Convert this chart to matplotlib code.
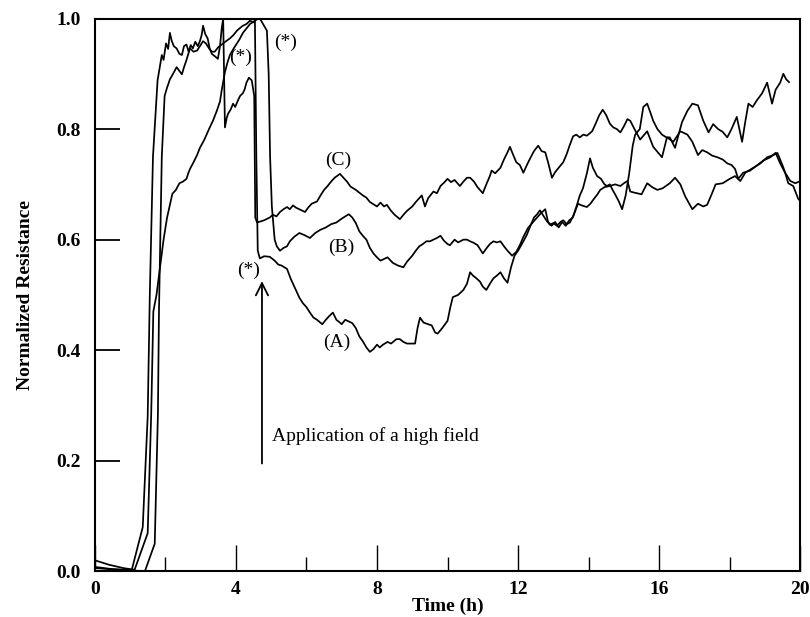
import matplotlib
matplotlib.use("Agg")
import matplotlib.pyplot as plt
from matplotlib.ticker import MultipleLocator

plt.rcParams['font.family'] = ['Liberation Serif', 'DejaVu Serif']

# curve (A): slow rise, drops at ~4.6 h to the lowest branch
tA = [0, 0.2, 0.4, 0.6, 0.8, 1.0, 1.13, 1.5, 1.6, 1.66, 1.75, 1.85, 1.95, 2.05, 2.12, 2.2, 2.3, 2.4,
      2.5, 2.6, 2.65, 2.7, 2.8, 2.9, 2.98, 3.1, 3.26, 3.35, 3.46, 3.55, 3.6, 3.69, 3.76, 3.83, 3.93,
      4.03, 4.1, 4.2, 4.3, 4.4, 4.54, 4.58, 4.62, 4.68, 4.8, 4.96, 5.1, 5.2, 5.3, 5.45, 5.55, 5.7, 5.8,
      5.9, 6.0, 6.1, 6.2, 6.3, 6.45, 6.55, 6.65, 6.75, 6.85, 6.95, 7.0, 7.1, 7.2, 7.3, 7.4, 7.5, 7.6,
      7.7, 7.8, 7.9, 8.0, 8.08, 8.17, 8.3, 8.4, 8.55, 8.65, 8.75, 8.85, 8.95, 9.08, 9.15, 9.22, 9.32,
      9.45, 9.55, 9.65, 9.72, 9.85, 10.0, 10.08, 10.15, 10.3, 10.45, 10.55, 10.64, 10.72, 10.82, 10.92,
      11.0, 11.1, 11.2, 11.3, 11.4, 11.5, 11.6, 11.7, 11.8, 11.9, 12.0, 12.15, 12.25, 12.35, 12.45,
      12.54, 12.62, 12.7, 12.8, 12.9, 13.0, 13.1, 13.2, 13.28, 13.38, 13.47, 13.58, 13.7, 13.8, 13.95,
      14.05, 14.13, 14.25, 14.33, 14.45, 14.6, 14.75, 14.9, 15.0, 15.1, 15.18, 15.3, 15.5, 15.66, 15.8,
      15.95, 16.1, 16.3, 16.45, 16.6, 16.74, 16.94, 17.1, 17.25, 17.36, 17.5, 17.6, 17.8, 18.0, 18.15,
      18.3, 18.44, 18.67, 18.87, 19.06, 19.24, 19.35, 19.5, 19.57, 19.66, 19.8, 19.94, 20.0]
rA = [0.020, 0.016, 0.012, 0.009, 0.006, 0.004, 0.003, 0.069, 0.285, 0.47, 0.50, 0.55, 0.60, 0.64,
      0.66, 0.683, 0.69, 0.702, 0.705, 0.71, 0.72, 0.728, 0.74, 0.753, 0.766, 0.78, 0.803, 0.815,
      0.833, 0.85, 0.871, 0.903, 0.92, 0.934, 0.945, 0.955, 0.962, 0.974, 0.982, 0.99, 0.996, 0.75,
      0.58, 0.566, 0.57, 0.569, 0.562, 0.555, 0.553, 0.547, 0.53, 0.509, 0.495, 0.485, 0.478, 0.468,
      0.459, 0.455, 0.447, 0.455, 0.462, 0.468, 0.455, 0.45, 0.447, 0.455, 0.452, 0.449, 0.44, 0.425,
      0.416, 0.405, 0.397, 0.402, 0.41, 0.405, 0.41, 0.415, 0.412, 0.42, 0.42, 0.415, 0.412, 0.412,
      0.412, 0.44, 0.459, 0.45, 0.447, 0.445, 0.432, 0.43, 0.44, 0.453, 0.478, 0.496, 0.5, 0.509, 0.52,
      0.541, 0.535, 0.53, 0.524, 0.515, 0.509, 0.52, 0.53, 0.535, 0.541, 0.53, 0.522, 0.55, 0.571, 0.58,
      0.597, 0.609, 0.625, 0.64, 0.646, 0.653, 0.645, 0.635, 0.627, 0.63, 0.625, 0.632, 0.635, 0.628,
      0.631, 0.645, 0.665, 0.662, 0.659, 0.665, 0.672, 0.682, 0.69, 0.695, 0.697, 0.70, 0.697, 0.702,
      0.706, 0.687, 0.685, 0.682, 0.702, 0.695, 0.69, 0.693, 0.702, 0.712, 0.70, 0.678, 0.655, 0.665,
      0.66, 0.663, 0.684, 0.70, 0.702, 0.71, 0.715, 0.706, 0.721, 0.73, 0.738, 0.749, 0.753, 0.757,
      0.734, 0.721, 0.702, 0.697, 0.674, 0.67]

# curve (B): drops last (~4.9 h), ends at the top
tB = [0, 0.5, 1.0, 1.42, 1.7, 1.79, 1.82, 1.9, 1.98, 2.05, 2.13, 2.22, 2.32, 2.4, 2.47, 2.53, 2.6,
      2.7, 2.8, 2.9, 2.98, 3.07, 3.15, 3.25, 3.32, 3.4, 3.5, 3.6, 3.7, 3.83, 3.93, 4.03, 4.12, 4.2,
      4.3, 4.4, 4.5, 4.58, 4.68, 4.77, 4.88, 4.93, 4.97, 5.02, 5.1, 5.16, 5.25, 5.35, 5.45, 5.53, 5.65,
      5.8, 5.95, 6.1, 6.25, 6.4, 6.55, 6.7, 6.85, 7.0, 7.1, 7.2, 7.3, 7.4, 7.5, 7.6, 7.7, 7.8, 7.9, 8.0,
      8.1, 8.2, 8.3, 8.45, 8.6, 8.75, 8.85, 9.0, 9.1, 9.2, 9.3, 9.4, 9.5, 9.6, 9.7, 9.8, 9.9, 10.0,
      10.07, 10.2, 10.3, 10.45, 10.55, 10.64, 10.75, 10.85, 11.0, 11.1, 11.2, 11.3, 11.4, 11.5, 11.6,
      11.7, 11.83, 11.95, 12.05, 12.15, 12.28, 12.4, 12.54, 12.65, 12.77, 12.85, 12.95, 13.05, 13.15,
      13.25, 13.35, 13.45, 13.55, 13.67, 13.75, 13.84, 13.95, 14.04, 14.12, 14.24, 14.35, 14.45,
      14.52, 14.6, 14.68, 14.75, 14.85, 14.95, 15.05, 15.15, 15.25, 15.32, 15.45, 15.55, 15.66, 15.75,
      15.83, 15.95, 16.08, 16.2, 16.3, 16.45, 16.55, 16.65, 16.8, 16.94, 17.1, 17.25, 17.4, 17.53,
      17.67, 17.8, 17.93, 18.05, 18.2, 18.35, 18.44, 18.53, 18.65, 18.77, 18.92, 19.06, 19.2, 19.3,
      19.43, 19.52, 19.6, 19.68]
rB = [0.008, 0.004, 0.002, 0.0, 0.05, 0.285, 0.47, 0.75, 0.86, 0.875, 0.89, 0.90, 0.912, 0.905,
      0.899, 0.912, 0.925, 0.946, 0.94, 0.942, 0.95, 0.959, 0.955, 0.945, 0.94, 0.94, 0.948, 0.953,
      0.958, 0.964, 0.97, 0.978, 0.983, 0.987, 0.99, 0.996, 0.993, 0.998, 1.0, 0.99, 0.978, 0.90,
      0.75, 0.66, 0.60, 0.588, 0.58, 0.585, 0.588, 0.597, 0.605, 0.612, 0.608, 0.603, 0.612, 0.618,
      0.622, 0.628, 0.631, 0.638, 0.642, 0.646, 0.64, 0.63, 0.615, 0.607, 0.60, 0.585, 0.575, 0.568,
      0.562, 0.565, 0.568, 0.558, 0.553, 0.55, 0.56, 0.571, 0.58, 0.588, 0.592, 0.597, 0.597, 0.60,
      0.603, 0.607, 0.598, 0.592, 0.59, 0.60, 0.595, 0.60, 0.60, 0.597, 0.594, 0.59, 0.575, 0.584,
      0.592, 0.597, 0.595, 0.597, 0.588, 0.58, 0.571, 0.578, 0.59, 0.605, 0.621, 0.63, 0.64, 0.648,
      0.655, 0.632, 0.625, 0.632, 0.622, 0.632, 0.625, 0.635, 0.64, 0.663, 0.68, 0.693, 0.72, 0.747,
      0.73, 0.715, 0.71, 0.70, 0.697, 0.70, 0.69, 0.682, 0.67, 0.655, 0.68, 0.72, 0.77, 0.79, 0.80,
      0.84, 0.846, 0.83, 0.815, 0.80, 0.79, 0.785, 0.785, 0.766, 0.79, 0.813, 0.833, 0.846, 0.843,
      0.815, 0.794, 0.809, 0.80, 0.795, 0.785, 0.80, 0.822, 0.777, 0.813, 0.846, 0.84, 0.852, 0.865,
      0.884, 0.846, 0.871, 0.884, 0.90, 0.89, 0.885]

# curve (C): dip at ~3.7 h, drops at ~4.5 h to the highest branch
tC = [0, 0.4, 0.8, 1.05, 1.36, 1.5, 1.56, 1.65, 1.78, 1.9, 1.95, 2.02, 2.08, 2.13, 2.18, 2.24, 2.32,
      2.4, 2.47, 2.53, 2.6, 2.66, 2.72, 2.78, 2.85, 2.92, 2.98, 3.03, 3.07, 3.13, 3.2, 3.26, 3.32, 3.4,
      3.49, 3.55, 3.6, 3.64, 3.69, 3.74, 3.78, 3.85, 3.92, 3.98, 4.06, 4.12, 4.2, 4.25, 4.3, 4.37,
      4.45, 4.52, 4.55, 4.6, 4.7, 4.8, 4.96, 5.05, 5.15, 5.25, 5.35, 5.45, 5.53, 5.62, 5.7, 5.8, 5.96,
      6.05, 6.15, 6.3, 6.4, 6.5, 6.6, 6.7, 6.8, 6.95, 7.05, 7.15, 7.25, 7.4, 7.5, 7.6, 7.7, 7.8, 7.9,
      8.0, 8.1, 8.2, 8.28, 8.4, 8.5, 8.65, 8.75, 8.85, 9.0, 9.1, 9.2, 9.27, 9.36, 9.45, 9.6, 9.7, 9.8,
      9.9, 10.0, 10.1, 10.2, 10.35, 10.45, 10.55, 10.64, 10.75, 10.85, 11.0, 11.1, 11.2, 11.25, 11.35,
      11.5, 11.6, 11.7, 11.77, 11.85, 11.95, 12.05, 12.15, 12.25, 12.35, 12.45, 12.57, 12.67, 12.77,
      12.85, 12.96, 13.05, 13.15, 13.28, 13.38, 13.47, 13.56, 13.65, 13.75, 13.85, 13.95, 14.1, 14.2,
      14.3, 14.4, 14.5, 14.6, 14.7, 14.8, 14.9, 15.0, 15.1, 15.18, 15.3, 15.46, 15.66, 15.83, 16.08,
      16.22, 16.4, 16.6, 16.8, 16.94, 17.1, 17.22, 17.36, 17.5, 17.65, 17.8, 17.93, 18.05, 18.15,
      18.24, 18.38, 18.58, 18.77, 18.95, 19.15, 19.3, 19.43, 19.57, 19.72, 19.86, 20.0]
rC = [0.006, 0.004, 0.003, 0.003, 0.08, 0.28, 0.50, 0.75, 0.888, 0.934, 0.925, 0.955, 0.945, 0.974,
      0.96, 0.95, 0.946, 0.936, 0.934, 0.95, 0.953, 0.94, 0.952, 0.946, 0.958, 0.95, 0.959, 0.97,
      0.987, 0.972, 0.964, 0.945, 0.936, 0.932, 0.927, 0.95, 0.983, 1.0, 0.803, 0.82, 0.828, 0.835,
      0.846, 0.84, 0.852, 0.86, 0.865, 0.872, 0.884, 0.893, 0.888, 0.86, 0.64, 0.631, 0.633, 0.635,
      0.64, 0.645, 0.642, 0.65, 0.655, 0.659, 0.655, 0.662, 0.658, 0.655, 0.65, 0.658, 0.665, 0.669,
      0.68, 0.69, 0.697, 0.705, 0.712, 0.719, 0.712, 0.705, 0.696, 0.69, 0.685, 0.68, 0.676, 0.668,
      0.664, 0.66, 0.667, 0.66, 0.663, 0.652, 0.645, 0.637, 0.645, 0.652, 0.66, 0.668, 0.675, 0.68,
      0.66, 0.675, 0.687, 0.684, 0.697, 0.703, 0.71, 0.704, 0.708, 0.697, 0.705, 0.712, 0.712, 0.705,
      0.695, 0.684, 0.70, 0.715, 0.725, 0.72, 0.73, 0.745, 0.758, 0.768, 0.755, 0.74, 0.735, 0.721,
      0.735, 0.748, 0.76, 0.77, 0.76, 0.758, 0.74, 0.712, 0.722, 0.73, 0.74, 0.755, 0.772, 0.787, 0.79,
      0.785, 0.79, 0.788, 0.796, 0.81, 0.825, 0.835, 0.825, 0.81, 0.803, 0.80, 0.794, 0.805, 0.818,
      0.815, 0.80, 0.781, 0.796, 0.768, 0.749, 0.785, 0.777, 0.796, 0.79, 0.777, 0.753, 0.762, 0.758,
      0.752, 0.749, 0.745, 0.738, 0.735, 0.728, 0.71, 0.721, 0.725, 0.734, 0.743, 0.749, 0.757, 0.738,
      0.721, 0.706, 0.702, 0.706]

curve_labels = ['(A)', '(B)', '(C)']
label_pos = [(6.87, 0.414), (6.98, 0.586), (6.9, 0.743)]
star_pos = [(4.37, 0.545), (4.14, 0.93), (5.4, 0.957)]

fig = plt.figure(figsize=(8.1, 6.17), dpi=100)
ax = fig.add_axes([0.117, 0.074, 0.871, 0.896])

for t, r in [(tA, rA), (tB, rB), (tC, rC)]:
    ax.plot(t, r, color='black', lw=1.25)

for lab, (x, y) in zip(curve_labels, label_pos):
    ax.text(x, y, lab, fontsize=14, ha='center', va='center')
for x, y in star_pos:
    ax.text(x, y, '(*)', fontsize=14, ha='center', va='center')

ax.annotate('', xy=(4.74, 0.53), xytext=(4.74, 0.19),
            arrowprops=dict(arrowstyle='->', lw=1.3, color='black', mutation_scale=22))
ax.text(5.02, 0.245, 'Application of a high field', fontsize=14, ha='left', va='center')

ax.set_xlim(0, 20)
ax.set_ylim(0, 1.0)
ax.xaxis.set_major_locator(MultipleLocator(4))
ax.xaxis.set_minor_locator(MultipleLocator(2))
ax.yaxis.set_major_locator(MultipleLocator(0.2))
ax.yaxis.set_major_formatter(plt.FormatStrFormatter('%.1f'))
ax.tick_params(axis='x', which='major', direction='in', length=19, width=1.0, pad=7)
ax.tick_params(axis='x', which='minor', direction='in', length=10, width=1.0)
ax.tick_params(axis='y', which='major', direction='in', length=18, width=1.3, pad=10)
ax.tick_params(labelsize=14)
for lbl in ax.get_xticklabels() + ax.get_yticklabels():
    lbl.set_fontweight('bold')
for s in ax.spines.values():
    s.set_linewidth(1.5)

ax.set_xlabel('Time (h)', fontsize=14, fontweight='bold', labelpad=0)
ax.set_ylabel('Normalized Resistance', fontsize=14, fontweight='bold', labelpad=16)

fig.savefig('out.png', dpi=100)
